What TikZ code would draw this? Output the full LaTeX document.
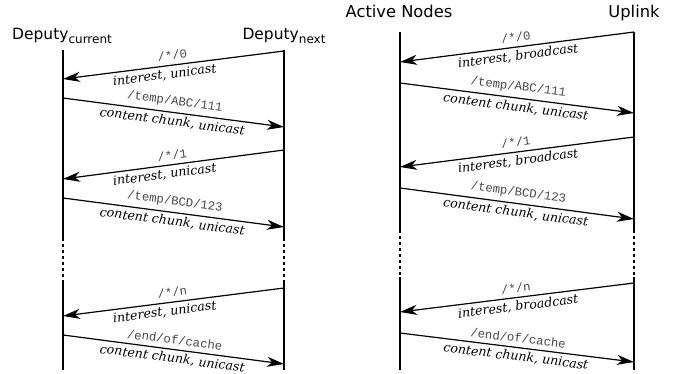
\documentclass[tikz,border=0pt]{standalone}
\usepackage{fontspec}
\setmainfont{DejaVu Serif}
\newfontfamily\titlefont{DejaVu Sans}
\newfontfamily\codefont{Liberation Mono}
\usetikzlibrary{arrows.meta}
\begin{document}
\begin{tikzpicture}[x=1pt,y=-1pt,
  life/.style={line width=1.4pt},
  lifedot/.style={line width=1.4pt, dash pattern=on 3pt off 3pt},
  msg/.style={line width=1.2pt,-{Stealth[length=17pt,width=10pt,inset=5pt]}},
  ttl/.style={font=\titlefont\fontsize{15.5}{18}\selectfont, anchor=base, inner sep=0pt},
  ttlb/.style={font=\titlefont\fontsize{16.3}{19}\selectfont, anchor=base, inner sep=0pt},
  code/.style={font=\codefont\fontsize{12.3}{14}\selectfont, text=black!72, sloped, above, inner sep=4.5pt},
  kind/.style={font=\itshape\fontsize{12.6}{14}\selectfont, sloped, below, inner sep=3pt}
]
\useasboundingbox (0,0) rectangle (675,373);
% titles
\node[ttl] (tA) at (62,39) {Deputy\raisebox{-0.28em}{\fontsize{12}{14}\selectfont current}};
\node[ttl] (tB) at (284,39) {Deputy\raisebox{-0.28em}{\fontsize{12}{14}\selectfont next}};
\node[ttlb] (tC) at (399,17) {Active Nodes};
\node[ttlb] (tD) at (634,17) {Uplink};
% lifelines left
\coordinate (A0) at (63,50);  \coordinate (A1) at (63,238);
\coordinate (A2) at (63,282); \coordinate (A3) at (63,370);
\coordinate (B0) at (284,50); \coordinate (B1) at (284,238);
\coordinate (B2) at (284,282);\coordinate (B3) at (284,370);
\draw[life] (A0) -- (A1); \draw[lifedot] (A1) -- (A2); \draw[life] (A2) -- (A3);
\draw[life] (B0) -- (B1); \draw[lifedot] (B1) -- (B2); \draw[life] (B2) -- (B3);
% lifelines right
\coordinate (C0) at (400,32);  \coordinate (C1) at (400,230);
\coordinate (C2) at (400,277); \coordinate (C3) at (400,370);
\coordinate (D0) at (634,32);  \coordinate (D1) at (634,230);
\coordinate (D2) at (634,277); \coordinate (D3) at (634,370);
\draw[life] (C0) -- (C1); \draw[lifedot] (C1) -- (C2); \draw[life] (C2) -- (C3);
\draw[life] (D0) -- (D1); \draw[lifedot] (D1) -- (D2); \draw[life] (D2) -- (D3);
% message endpoints left
\coordinate (a1) at (63,79);  \coordinate (b1) at (284,51);
\coordinate (a2) at (63,98);  \coordinate (b2) at (284,127);
\coordinate (a3) at (63,179); \coordinate (b3) at (284,150);
\coordinate (a4) at (63,198); \coordinate (b4) at (284,227);
\coordinate (a5) at (63,316); \coordinate (b5) at (284,288);
\coordinate (a6) at (63,335); \coordinate (b6) at (284,364);
% message endpoints right
\coordinate (c1) at (400,62);  \coordinate (d1) at (634,32);
\coordinate (c2) at (400,83);  \coordinate (d2) at (634,113);
\coordinate (c3) at (400,167); \coordinate (d3) at (634,137);
\coordinate (c4) at (400,188); \coordinate (d4) at (634,219);
\coordinate (c5) at (400,312); \coordinate (d5) at (634,283);
\coordinate (c6) at (400,333); \coordinate (d6) at (634,362);
% left messages
\draw[msg] (b1) -- node[code]{/*/0} node[kind,pos=0.545]{interest, unicast} (a1);
\draw[msg] (a2) -- node[code]{/temp/ABC/111} node[kind]{content chunk, unicast} (b2);
\draw[msg] (b3) -- node[code]{/*/1} node[kind,pos=0.545]{interest, unicast} (a3);
\draw[msg] (a4) -- node[code]{/temp/BCD/123} node[kind]{content chunk, unicast} (b4);
\draw[msg] (b5) -- node[code]{/*/n} node[kind,pos=0.545]{interest, unicast} (a5);
\draw[msg] (a6) -- node[code]{/end/of/cache} node[kind]{content chunk, unicast} (b6);
% right messages
\draw[msg] (d1) -- node[code]{/*/0} node[kind]{interest, broadcast} (c1);
\draw[msg] (c2) -- node[code]{/temp/ABC/111} node[kind]{content chunk, unicast} (d2);
\draw[msg] (d3) -- node[code]{/*/1} node[kind]{interest, broadcast} (c3);
\draw[msg] (c4) -- node[code]{/temp/BCD/123} node[kind]{content chunk, unicast} (d4);
\draw[msg] (d5) -- node[code]{/*/n} node[kind]{interest, broadcast} (c5);
\draw[msg] (c6) -- node[code]{/end/of/cache} node[kind]{content chunk, unicast} (d6);
\end{tikzpicture}
\end{document}
